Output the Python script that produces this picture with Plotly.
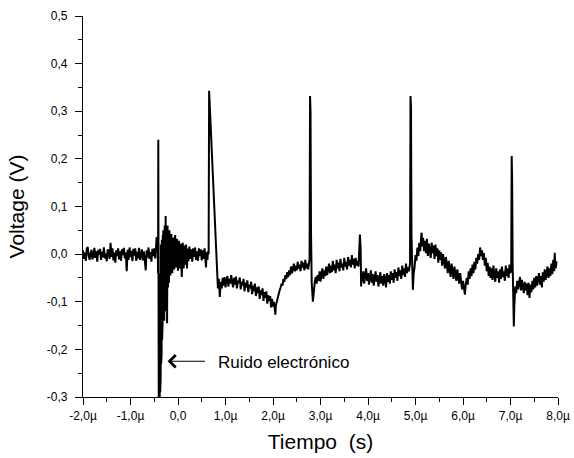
import plotly.graph_objects as go

# ---- data (time in microseconds, voltage in volts) ----
seg_baseline = [
    (-2.00, 0.008), (-1.98, -0.010), (-1.96, 0.003), (-1.94, -0.014), (-1.92, 0.011),
    (-1.90, 0.015), (-1.88, -0.005), (-1.86, -0.012), (-1.84, 0.002), (-1.82, 0.009),
    (-1.80, -0.011), (-1.78, -0.003), (-1.76, 0.013), (-1.74, -0.008), (-1.72, 0.006),
    (-1.70, -0.016), (-1.68, 0.009), (-1.66, -0.001), (-1.64, 0.011), (-1.62, -0.012),
    (-1.60, 0.005), (-1.58, -0.007), (-1.56, 0.014), (-1.54, -0.009), (-1.52, 0.001),
    (-1.50, -0.015), (-1.48, 0.010), (-1.46, 0.004), (-1.44, -0.010), (-1.42, 0.024),
    (-1.40, -0.006), (-1.38, 0.012), (-1.36, -0.013), (-1.34, 0.003), (-1.32, -0.018),
    (-1.30, 0.008), (-1.28, -0.004), (-1.26, 0.012), (-1.24, -0.011), (-1.22, 0.006),
    (-1.20, -0.014), (-1.18, 0.010), (-1.16, -0.002), (-1.14, 0.013), (-1.12, -0.009),
    (-1.10, 0.004), (-1.08, -0.036), (-1.06, 0.009), (-1.04, -0.012), (-1.02, 0.014),
    (-1.00, -0.006), (-0.98, 0.007), (-0.96, -0.015), (-0.94, 0.011), (-0.92, -0.003),
    (-0.90, 0.012), (-0.88, -0.014), (-0.86, 0.005), (-0.84, -0.009), (-0.82, 0.013),
    (-0.80, -0.012), (-0.78, 0.002), (-0.76, 0.010), (-0.74, -0.013), (-0.72, 0.006),
    (-0.70, -0.011), (-0.68, -0.034), (-0.66, 0.008), (-0.64, -0.007), (-0.62, 0.014),
    (-0.60, -0.010), (-0.58, 0.004), (-0.56, -0.016), (-0.54, 0.011), (-0.52, -0.004),
    (-0.50, 0.012), (-0.48, -0.009), (-0.46, 0.018), (-0.45, 0.036), (-0.44, 0.010),
]

seg_noise_burst = [
    (-0.43, 0.030), (-0.42, -0.040), (-0.415, 0.240), (-0.41, -0.180), (-0.405, -0.330),
    (-0.40, -0.080), (-0.395, -0.330), (-0.39, -0.140), (-0.385, -0.310), (-0.38, -0.040),
    (-0.375, -0.290), (-0.37, -0.110), (-0.365, -0.260), (-0.36, 0.020), (-0.355, -0.230),
    (-0.35, -0.050), (-0.345, -0.210), (-0.34, 0.030), (-0.335, -0.180), (-0.33, 0.020),
    (-0.325, -0.150), (-0.32, 0.040), (-0.315, -0.130), (-0.31, 0.050), (-0.305, -0.100),
    (-0.30, 0.030), (-0.29, -0.140), (-0.28, 0.060), (-0.27, -0.090), (-0.26, 0.080),
    (-0.25, -0.120), (-0.24, 0.050), (-0.23, -0.145), (-0.22, 0.060), (-0.21, -0.070),
    (-0.20, 0.045), (-0.19, -0.060), (-0.18, 0.050), (-0.17, -0.020), (-0.16, -0.045),
    (-0.15, 0.030), (-0.14, 0.042), (-0.13, -0.020), (-0.12, -0.040), (-0.11, 0.015),
    (-0.10, 0.035), (-0.09, -0.010), (-0.08, -0.032), (-0.07, 0.025), (-0.06, 0.040),
    (-0.05, -0.015), (-0.04, -0.028), (-0.03, 0.020), (-0.02, 0.032), (-0.01, -0.005),
    (0.00, -0.035), (0.01, 0.018), (0.02, 0.028), (0.03, -0.020), (0.04, -0.030),
    (0.05, 0.022), (0.06, 0.010), (0.07, -0.025), (0.08, -0.048), (0.09, 0.012),
    (0.10, 0.024), (0.11, -0.015), (0.12, -0.030), (0.13, 0.018), (0.14, 0.008),
    (0.15, -0.022), (0.16, -0.012), (0.17, 0.020), (0.18, -0.008), (0.19, -0.030),
    (0.20, 0.012), (0.22, -0.015), (0.24, 0.016), (0.26, -0.010), (0.28, 0.010),
    (0.30, -0.016), (0.32, 0.012), (0.34, -0.006), (0.36, 0.014), (0.38, -0.012),
    (0.40, 0.006), (0.42, -0.014), (0.44, 0.012), (0.46, -0.004), (0.48, 0.010),
    (0.50, -0.013), (0.52, 0.008), (0.54, -0.010), (0.56, 0.012), (0.58, -0.008),
    (0.59, -0.028), (0.60, 0.004), (0.62, -0.012), (0.63, 0.006),
]

seg_pulse1 = [
    (0.645, 0.000), (0.655, 0.343), (0.665, 0.320), (0.68, 0.300), (0.70, 0.268),
    (0.72, 0.220), (0.74, 0.170), (0.76, 0.118), (0.78, 0.060), (0.80, 0.010),
    (0.82, -0.040), (0.84, -0.072), (0.86, -0.052), (0.88, -0.090), (0.90, -0.058),
    (0.92, -0.072), (0.94, -0.050), (0.96, -0.066), (0.98, -0.048), (1.00, -0.070),
    (1.02, -0.055), (1.04, -0.046), (1.06, -0.068), (1.08, -0.052), (1.10, -0.062),
    (1.12, -0.044), (1.14, -0.058), (1.16, -0.070), (1.18, -0.050), (1.20, -0.064),
    (1.22, -0.047), (1.24, -0.072), (1.26, -0.056), (1.28, -0.060), (1.30, -0.049),
    (1.32, -0.074), (1.34, -0.058), (1.36, -0.066), (1.38, -0.052), (1.40, -0.078),
    (1.42, -0.060), (1.44, -0.070), (1.46, -0.055), (1.48, -0.080), (1.50, -0.064),
    (1.52, -0.072), (1.54, -0.058), (1.56, -0.084), (1.58, -0.066), (1.60, -0.078),
    (1.62, -0.062), (1.64, -0.088), (1.66, -0.070), (1.68, -0.082), (1.70, -0.068),
    (1.72, -0.094), (1.74, -0.076), (1.76, -0.086), (1.78, -0.072), (1.80, -0.098),
    (1.82, -0.080), (1.84, -0.092), (1.86, -0.078), (1.88, -0.104), (1.90, -0.086),
    (1.92, -0.098), (1.94, -0.088), (1.96, -0.112), (1.98, -0.094), (2.00, -0.110),
    (2.02, -0.100), (2.04, -0.122), (2.05, -0.127), (2.06, -0.108), (2.08, -0.098),
    (2.10, -0.090), (2.12, -0.082), (2.14, -0.076), (2.16, -0.070), (2.18, -0.062),
    (2.20, -0.066), (2.22, -0.052), (2.24, -0.058), (2.26, -0.044), (2.28, -0.052),
    (2.30, -0.038), (2.32, -0.048), (2.34, -0.034), (2.36, -0.044), (2.38, -0.026),
    (2.40, -0.040), (2.42, -0.030), (2.44, -0.020), (2.46, -0.036), (2.48, -0.024),
    (2.50, -0.034), (2.52, -0.016), (2.54, -0.030), (2.56, -0.022), (2.58, -0.036),
    (2.60, -0.014), (2.62, -0.028), (2.64, -0.018), (2.66, -0.034), (2.68, -0.012),
    (2.70, -0.030), (2.72, -0.020), (2.74, -0.032), (2.755, -0.024),
]

seg_pulse2 = [
    (2.77, -0.010), (2.78, 0.332), (2.79, 0.300), (2.80, 0.050), (2.815, -0.060),
    (2.84, -0.100), (2.86, -0.072), (2.88, -0.058), (2.90, -0.048), (2.92, -0.062),
    (2.94, -0.044), (2.96, -0.056), (2.98, -0.036), (3.00, -0.058), (3.02, -0.040),
    (3.04, -0.030), (3.06, -0.052), (3.08, -0.034), (3.10, -0.046), (3.12, -0.026),
    (3.14, -0.044), (3.16, -0.032), (3.18, -0.020), (3.20, -0.040), (3.22, -0.024),
    (3.24, -0.038), (3.26, -0.014), (3.28, -0.034), (3.30, -0.022), (3.32, -0.040),
    (3.34, -0.012), (3.36, -0.030), (3.38, -0.018), (3.40, -0.036), (3.42, -0.010),
    (3.44, -0.028), (3.46, -0.020), (3.48, -0.034), (3.50, -0.008), (3.52, -0.026),
    (3.54, -0.016), (3.56, -0.032), (3.58, -0.006), (3.60, -0.024), (3.62, -0.012),
    (3.64, -0.028), (3.66, -0.002), (3.68, -0.022), (3.70, -0.010), (3.72, -0.030),
    (3.74, -0.008), (3.76, -0.024), (3.78, -0.014), (3.80, -0.026), (3.82, 0.010),
    (3.83, 0.041), (3.845, 0.012), (3.855, -0.068), (3.87, -0.040), (3.88, -0.058),
    (3.90, -0.036), (3.92, -0.062), (3.94, -0.044), (3.96, -0.030), (3.98, -0.056),
    (4.00, -0.040), (4.02, -0.064), (4.04, -0.046), (4.06, -0.034), (4.08, -0.060),
    (4.10, -0.042), (4.12, -0.066), (4.14, -0.048), (4.16, -0.036), (4.18, -0.058),
    (4.20, -0.044), (4.22, -0.068), (4.24, -0.050), (4.26, -0.038), (4.28, -0.062),
    (4.30, -0.046), (4.32, -0.066), (4.34, -0.042), (4.36, -0.054), (4.38, -0.070),
    (4.40, -0.040), (4.42, -0.058), (4.44, -0.044), (4.46, -0.062), (4.48, -0.036),
    (4.50, -0.054), (4.52, -0.040), (4.54, -0.060), (4.56, -0.032), (4.58, -0.050),
    (4.60, -0.038), (4.62, -0.056), (4.64, -0.028), (4.66, -0.046), (4.68, -0.034),
    (4.70, -0.052), (4.72, -0.024), (4.74, -0.044), (4.76, -0.030), (4.78, -0.048),
    (4.80, -0.020), (4.82, -0.040), (4.84, -0.028), (4.86, -0.036), (4.885, -0.020),
]

seg_pulse3 = [
    (4.895, 0.332), (4.905, 0.310), (4.915, 0.040), (4.93, -0.050), (4.945, -0.075),
    (4.96, -0.042), (4.98, -0.028), (5.00, -0.002), (5.02, -0.014), (5.04, 0.014),
    (5.06, -0.004), (5.08, 0.024), (5.10, 0.006), (5.12, 0.038), (5.13, 0.045),
    (5.14, 0.016), (5.16, 0.034), (5.18, 0.006), (5.20, 0.028), (5.22, 0.002),
    (5.24, 0.032), (5.26, -0.004), (5.28, 0.022), (5.30, 0.008), (5.32, -0.008),
    (5.34, 0.024), (5.36, 0.002), (5.38, 0.018), (5.40, -0.010), (5.42, 0.020),
    (5.44, -0.004), (5.46, 0.012), (5.48, -0.018), (5.50, 0.008), (5.52, -0.012),
    (5.54, 0.004), (5.56, -0.024), (5.58, 0.000), (5.60, -0.016), (5.62, -0.030),
    (5.64, -0.006), (5.66, -0.026), (5.68, -0.040), (5.70, -0.014), (5.72, -0.032),
    (5.74, -0.048), (5.76, -0.020), (5.78, -0.040), (5.80, -0.052), (5.82, -0.026),
    (5.84, -0.044), (5.86, -0.056), (5.88, -0.032), (5.90, -0.050), (5.92, -0.062),
    (5.94, -0.040), (5.96, -0.058), (5.98, -0.074), (6.00, -0.056), (6.02, -0.070),
    (6.04, -0.085), (6.06, -0.062), (6.08, -0.050), (6.10, -0.064), (6.12, -0.036),
    (6.14, -0.052), (6.16, -0.030), (6.18, -0.046), (6.20, -0.022), (6.22, -0.040),
    (6.24, -0.016), (6.26, -0.032), (6.28, -0.008), (6.30, -0.020), (6.32, 0.000),
    (6.34, -0.012), (6.36, 0.014), (6.38, -0.004), (6.40, 0.008), (6.42, -0.012),
    (6.44, 0.002), (6.46, -0.024), (6.48, -0.008), (6.50, -0.036), (6.52, -0.018),
    (6.54, -0.046), (6.56, -0.026), (6.58, -0.050), (6.60, -0.030), (6.62, -0.054),
    (6.64, -0.024), (6.66, -0.044), (6.68, -0.058), (6.70, -0.030), (6.72, -0.050),
    (6.74, -0.036), (6.76, -0.060), (6.78, -0.032), (6.80, -0.052), (6.82, -0.026),
    (6.84, -0.048), (6.86, -0.036), (6.88, -0.056), (6.90, -0.024), (6.92, -0.046),
    (6.94, -0.030), (6.96, -0.050), (6.98, -0.022), (7.00, -0.040), (7.015, -0.030),
]

seg_pulse4 = [
    (7.025, 0.206), (7.035, 0.150), (7.045, -0.020), (7.06, -0.120), (7.07, -0.152),
    (7.08, -0.110), (7.10, -0.068), (7.12, -0.082), (7.14, -0.056), (7.16, -0.074),
    (7.18, -0.060), (7.20, -0.048), (7.22, -0.076), (7.24, -0.054), (7.26, -0.068),
    (7.28, -0.082), (7.30, -0.058), (7.32, -0.076), (7.34, -0.062), (7.36, -0.086),
    (7.38, -0.060), (7.40, -0.092), (7.42, -0.064), (7.44, -0.080), (7.46, -0.056),
    (7.48, -0.074), (7.50, -0.050), (7.52, -0.070), (7.54, -0.046), (7.56, -0.066),
    (7.58, -0.052), (7.60, -0.040), (7.62, -0.064), (7.64, -0.046), (7.66, -0.070),
    (7.68, -0.038), (7.70, -0.058), (7.72, -0.032), (7.74, -0.054), (7.76, -0.040),
    (7.78, -0.026), (7.80, -0.050), (7.82, -0.030), (7.84, -0.046), (7.86, -0.020),
    (7.88, -0.042), (7.90, -0.012), (7.92, -0.036), (7.93, 0.003), (7.95, -0.030),
    (7.97, -0.015),
]

x_tickvals = [-2, -1, 0, 1, 2, 3, 4, 5, 6, 7, 8]
x_ticktext = ["-2,0µ", "-1,0µ", "0,0", "1,0µ", "2,0µ", "3,0µ", "4,0µ",
              "5,0µ", "6,0µ", "7,0µ", "8,0µ"]
y_tickvals = [-0.3, -0.2, -0.1, 0.0, 0.1, 0.2, 0.3, 0.4, 0.5]
y_ticktext = ["-0,3", "-0,2", "-0,1", "0,0", "0,1", "0,2", "0,3", "0,4", "0,5"]

annot_text = "Ruido electrónico"
annot_head = (-0.22, -0.225)
annot_tail = (0.60, -0.225)
annot_text_pos = (0.80, -0.228)

# ---- build the trace ----
segments = [seg_baseline, seg_noise_burst, seg_pulse1, seg_pulse2, seg_pulse3, seg_pulse4]
t_us = [p[0] for s in segments for p in s]
volts = [p[1] for s in segments for p in s]

FONT = "Arial, 'Liberation Sans', Helvetica, sans-serif"

fig = go.Figure()
fig.add_trace(go.Scatter(
    x=t_us, y=volts, mode="lines",
    line=dict(color="black", width=2.0),
    hoverinfo="skip", showlegend=False,
))

axis_common = dict(
    showline=True, linecolor="black", linewidth=1.3, mirror=False,
    showgrid=False, zeroline=False, automargin=False,
    ticks="outside", ticklen=7, tickwidth=1.2, tickcolor="black",
    tickfont=dict(family=FONT, size=12, color="black"),
)

fig.update_xaxes(
    range=[-2, 8], tickmode="array", tickvals=x_tickvals, ticktext=x_ticktext,
    minor=dict(ticks="outside", ticklen=4, tickwidth=1.2, tickcolor="black", dtick=0.5),
    title=dict(text="Tiempo  (s)", font=dict(family=FONT, size=21, color="black"), standoff=12),
    **axis_common,
)
fig.update_yaxes(
    range=[-0.3, 0.5], tickmode="array", tickvals=y_tickvals, ticktext=y_ticktext,
    minor=dict(ticks="outside", ticklen=4, tickwidth=1.2, tickcolor="black", dtick=0.05),
    ticklabelstandoff=5,
    title=dict(text="Voltage (V)", font=dict(family=FONT, size=21, color="black"), standoff=16),
    **axis_common,
)

fig.add_annotation(
    x=annot_head[0], y=annot_head[1], ax=annot_tail[0], ay=annot_tail[1],
    xref="x", yref="y", axref="x", ayref="y",
    text="", showarrow=True, arrowhead=4, arrowsize=2.2, arrowwidth=1.1, arrowcolor="black",
)
fig.add_annotation(
    x=annot_text_pos[0], y=annot_text_pos[1], xref="x", yref="y",
    text=annot_text, showarrow=False, xanchor="left", yanchor="middle",
    font=dict(family=FONT, size=17, color="black"),
)

fig.update_layout(
    width=574, height=458,
    margin=dict(l=83, r=16, t=16, b=61),
    paper_bgcolor="white", plot_bgcolor="white",
)

fig.write_html("out.html", config={"displayModeBar": False},
               post_script="document.body.style.margin='0px';")
